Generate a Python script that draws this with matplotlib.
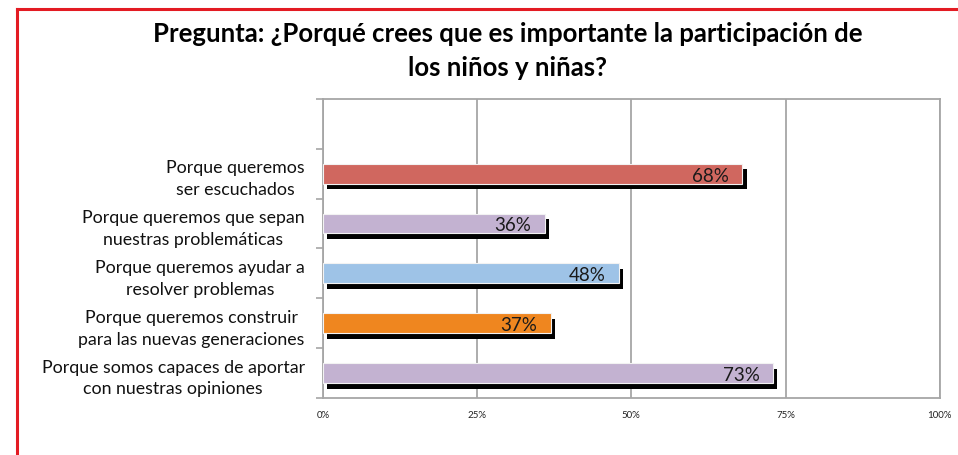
import matplotlib.pyplot as plt
import matplotlib.patheffects as pe
from matplotlib.lines import Line2D
import numpy as np

plt.rcParams['font.family'] = ['Lato', 'DejaVu Sans']

titulo = "Pregunta: ¿Porqué crees que es importante la participación de\nlos niños y niñas?"
etiquetas = ["Porque queremos\nser escuchados",
             "Porque queremos que sepan\nnuestras problemáticas",
             "Porque queremos ayudar a\nresolver problemas",
             "Porque queremos construir\npara las nuevas generaciones",
             "Porque somos capaces de aportar\ncon nuestras opiniones"]
valores = [68, 36, 48, 37, 73]
colores = ['#D0675F', '#C3B2D1', '#9EC3E7', '#EF861F', '#C3B2D1']
xticks = [0, 25, 50, 75, 100]

fig = plt.figure(figsize=(9.58, 4.56), dpi=100)
ax = fig.add_axes([0.337, 0.125, 0.644, 0.656])

y = np.arange(len(valores))[::-1]
bars = ax.barh(y, valores, height=0.4, color=colores, edgecolor='#F2F2F2', linewidth=0.8, zorder=3)
for b in bars:
    b.set_path_effects([pe.withSimplePatchShadow(offset=(3, -4), shadow_rgbFace='k', alpha=1)])

for yi, v in zip(y, valores):
    ax.text(v - 2.2, yi - 0.03, f"{v}%", ha='right', va='center', fontsize=13.5, color='#1a1a1a', zorder=4)

ax.set_xlim(0, 100)
ax.set_ylim(-0.5, 5.5)
ax.set_xticks(xticks)
ax.set_xticklabels([f"{t}%" for t in xticks], fontsize=7, color='#222222')
ax.tick_params(axis='x', length=0, pad=9)
ax.set_yticks(y)
ax.set_yticklabels(etiquetas, fontsize=12.8, ha='right', multialignment='center',
                   color='#111111', linespacing=1.45)
ax.tick_params(axis='y', length=0, pad=13)
ax.set_yticks(np.arange(-0.5, 6, 1), minor=True)
ax.tick_params(axis='y', which='minor', length=5, color='#A6A6A6', width=1.2)
ax.grid(axis='x', color='#A6A6A6', linewidth=1.3, zorder=0)
for s in ax.spines.values():
    s.set_color('#A6A6A6')
    s.set_linewidth(1.3)

fig.text(0.53, 0.952, titulo, ha='center', va='top', fontsize=18.5, fontweight='bold', linespacing=1.5)

# borde rojo
fig.add_artist(Line2D([0.018, 0.018], [0, 0.979], color='#E31B23', linewidth=2.2))
fig.add_artist(Line2D([0.018, 1], [0.979, 0.979], color='#E31B23', linewidth=2.2))

fig.savefig('out.png', dpi=100)
